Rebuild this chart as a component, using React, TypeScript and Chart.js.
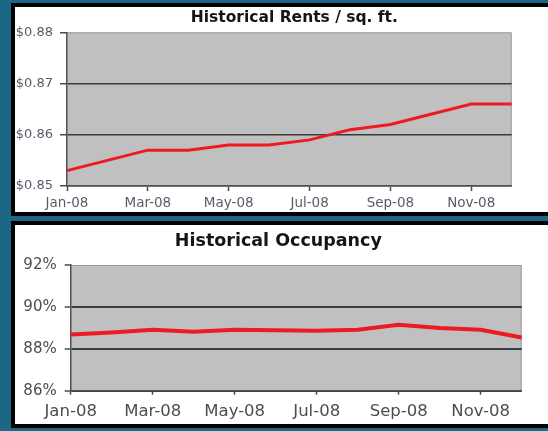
import React, { useEffect, useRef } from "react";
import { Chart, registerables } from "chart.js";

Chart.register(...registerables);

const months = [
  "Jan-08", "Feb-08", "Mar-08", "Apr-08", "May-08", "Jun-08",
  "Jul-08", "Aug-08", "Sep-08", "Oct-08", "Nov-08", "Dec-08",
];
const rentValues = [0.853, 0.855, 0.857, 0.857, 0.858, 0.858, 0.859, 0.861, 0.862, 0.864, 0.866, 0.866];
const occupancyValues = [88.68, 88.78, 88.91, 88.81, 88.91, 88.88, 88.86, 88.91, 89.15, 88.99, 88.91, 88.54];
const rentTicks = [0.85, 0.86, 0.87, 0.88];
const occupancyTicks = [86, 88, 90, 92];

const rentTitle = "Historical Rents / sq. ft.";
const occupancyTitle = "Historical Occupancy";

const TEAL = "#1c6784";
const RED = "#ee1a22";
const FONT = "'DejaVu Sans', sans-serif";

const plotBg = {
  id: "plotBg",
  beforeDraw(chart: any) {
    const { ctx, chartArea: a } = chart;
    ctx.save();
    ctx.fillStyle = "#c0c0c0";
    ctx.fillRect(a.left, a.top, a.right - a.left, a.bottom - a.top);
    ctx.strokeStyle = "#9c9c9c";
    ctx.lineWidth = 1;
    ctx.beginPath();
    ctx.moveTo(a.left, a.top + 0.5);
    ctx.lineTo(a.right - 0.5, a.top + 0.5);
    ctx.lineTo(a.right - 0.5, a.bottom);
    ctx.stroke();
    ctx.restore();
  },
};

// nudges the title block sideways after layout (the source title is not centred on the canvas)
const titleShift = {
  id: "titleShift",
  afterLayout(chart: any, _args: any, opts: any) {
    const t = chart.titleBlock;
    const dx = (opts && opts.dx) || 0;
    if (t && dx) {
      t.left += dx;
      t.right += dx;
    }
  },
};

type Cfg = {
  title: string;
  values: number[];
  ticks: number[];
  fmt: (v: number) => string;
  titleSize: number;
  titlePad: { top: number; bottom: number };
  titleFull: boolean;
  titleDx: number;
  yFont: number;
  xFont: number;
  yWidth: number;
  xHeight: number;
  rightPad: number;
  yTickLen: number;
  xTickLen: number;
  yPad: number;
  xPad: number;
  labelColor: string;
  gridWidth: number;
  lineWidth: number;
};

function makeConfig(c: Cfg): any {
  const top = c.ticks[c.ticks.length - 1];
  return {
    type: "line",
    data: {
      labels: months,
      datasets: [
        {
          data: c.values,
          borderColor: RED,
          backgroundColor: RED,
          borderWidth: c.lineWidth,
          pointRadius: 0,
          tension: 0,
          fill: false,
        },
      ],
    },
    options: {
      animation: false,
      responsive: false,
      maintainAspectRatio: false,
      events: [],
      layout: { padding: { left: 0, right: c.rightPad, top: 0, bottom: 0 } },
      plugins: {
        legend: { display: false },
        tooltip: { enabled: false },
        titleShift: { dx: c.titleDx },
        title: {
          display: true,
          fullSize: c.titleFull,
          text: c.title,
          color: "#151515",
          font: { family: FONT, size: c.titleSize, weight: "bold", lineHeight: 1.2 },
          padding: c.titlePad,
        },
      },
      scales: {
        x: {
          type: "category",
          offset: false,
          grid: {
            drawOnChartArea: false,
            tickLength: c.xTickLen,
            tickWidth: 1.5,
            tickColor: (ctx: any) => (ctx.index % 2 === 0 ? "#4a4a4a" : "transparent"),
          },
          border: { color: "#505050", width: 1.5 },
          ticks: {
            autoSkip: false,
            maxRotation: 0,
            minRotation: 0,
            padding: c.xPad,
            color: c.labelColor,
            font: { family: FONT, size: c.xFont },
            callback: (_v: any, i: number) => (i % 2 === 0 ? months[i] : ""),
          },
          afterFit: (s: any) => {
            s.height = c.xHeight;
          },
        },
        y: {
          min: c.ticks[0],
          max: top,
          afterBuildTicks: (s: any) => {
            s.ticks = c.ticks.map((v) => ({ value: v }));
          },
          grid: {
            color: (ctx: any) =>
              ctx.tick && ctx.tick.value === top ? "transparent" : "#3a3a3a",
            lineWidth: c.gridWidth,
            tickLength: c.yTickLen,
            tickWidth: 1.5,
            tickColor: "#4a4a4a",
          },
          border: { color: "#505050", width: 1.5 },
          ticks: {
            padding: c.yPad,
            color: c.labelColor,
            font: { family: FONT, size: c.yFont },
            callback: (v: any) => c.fmt(Number(v)),
          },
          afterFit: (s: any) => {
            s.width = c.yWidth;
          },
        },
      },
    },
    plugins: [plotBg, titleShift],
  };
}

function ChartCanvas({ cfg, width, height, left, top }: { cfg: Cfg; width: number; height: number; left: number; top: number }) {
  const ref = useRef<HTMLCanvasElement | null>(null);
  useEffect(() => {
    if (!ref.current) return;
    const chart = new Chart(ref.current, makeConfig(cfg));
    return () => chart.destroy();
  }, []);
  return (
    <canvas
      ref={ref}
      width={width}
      height={height}
      style={{ position: "absolute", left, top, width, height }}
    />
  );
}

const rentCfg: Cfg = {
  title: rentTitle,
  values: rentValues,
  ticks: rentTicks,
  fmt: (v) => "$" + v.toFixed(2),
  titleSize: 15.5,
  titlePad: { top: 2, bottom: 4.7 },
  titleFull: false,
  titleDx: 5,
  yFont: 13,
  xFont: 13.5,
  yWidth: 52,
  xHeight: 26,
  rightPad: 36.3,
  yTickLen: 7,
  xTickLen: 5,
  yPad: 7,
  xPad: 4,
  labelColor: "#5a5a6a",
  gridWidth: 1.5,
  lineWidth: 3,
};

const occCfg: Cfg = {
  title: occupancyTitle,
  values: occupancyValues,
  ticks: occupancyTicks,
  fmt: (v) => Math.round(v) + "%",
  titleSize: 17.5,
  titlePad: { top: 6, bottom: 13 },
  titleFull: true,
  titleDx: 10,
  yFont: 15,
  xFont: 16.5,
  yWidth: 55.7,
  xHeight: 33.3,
  rightPad: 26.3,
  yTickLen: 6,
  xTickLen: 4,
  yPad: 8,
  xPad: 7,
  labelColor: "#4d4d4d",
  gridWidth: 2,
  lineWidth: 4,
};

export default function App() {
  return (
    <div
      style={{
        position: "fixed",
        left: 0,
        top: 0,
        width: 548,
        height: 431,
        background: TEAL,
        overflow: "hidden",
      }}
    >
      <div
        style={{
          position: "absolute",
          left: 11,
          top: 3,
          width: 560,
          height: 205,
          border: "4px solid #000",
          background: "#fff",
        }}
      />
      <ChartCanvas cfg={rentCfg} width={533} height={205} left={15} top={7} />
      <div
        style={{
          position: "absolute",
          left: 11,
          top: 221,
          width: 560,
          height: 199,
          border: "4px solid #000",
          background: "#fff",
        }}
      />
      <ChartCanvas cfg={occCfg} width={533} height={199} left={15} top={225} />
    </div>
  );
}
